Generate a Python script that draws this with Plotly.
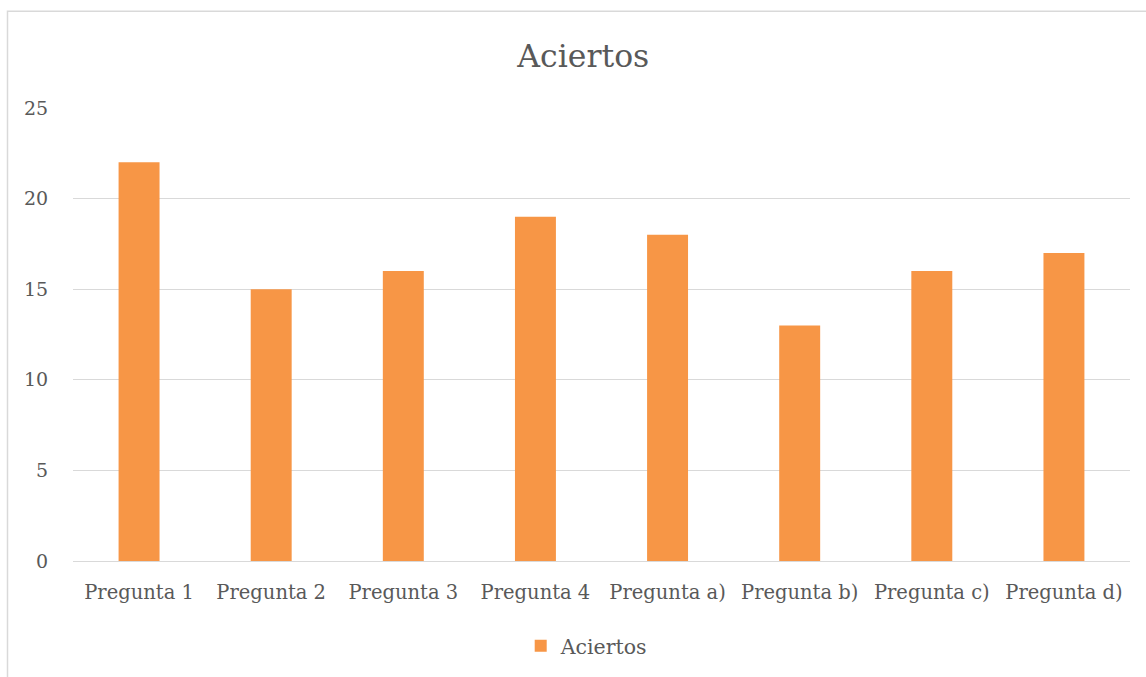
import plotly.graph_objects as go

categories = ["Pregunta 1", "Pregunta 2", "Pregunta 3", "Pregunta 4",
              "Pregunta a)", "Pregunta b)", "Pregunta c)", "Pregunta d)"]
aciertos = [22, 15, 16, 19, 18, 13, 16, 17]
y_ticks = [0, 5, 10, 15, 20, 25]

FONT = "DejaVu Serif"
TEXT = "#595959"
GRID = "#d9d9d9"
ORANGE = "#f79646"

fig = go.Figure(
    go.Bar(
        x=categories,
        y=aciertos,
        name="Aciertos",
        marker=dict(color=ORANGE, line=dict(width=0)),
        width=0.31,
    )
)

fig.update_layout(
    width=1146,
    height=677,
    margin=dict(l=73, r=16, t=108, b=115),
    paper_bgcolor="white",
    plot_bgcolor="white",
    font=dict(family=FONT, color=TEXT, size=19),
    title=dict(
        text="Aciertos",
        x=0.509,
        xanchor="center",
        y=0.918,
        yanchor="middle",
        font=dict(family=FONT, size=31.5, color=TEXT),
    ),
    showlegend=True,
    legend=dict(
        orientation="h",
        x=0.486,
        xanchor="center",
        y=-0.185,
        yanchor="middle",
        font=dict(family=FONT, size=20.5, color=TEXT),
        itemwidth=30,
    ),
    bargap=0.69,
    shapes=[
        dict(
            type="rect",
            xref="paper",
            yref="paper",
            x0=(7.5 - 73) / 1057,
            x1=1.1,
            y0=-0.4,
            y1=(562 - 11) / 454,
            line=dict(color=GRID, width=1.5),
            fillcolor="rgba(0,0,0,0)",
            layer="below",
        )
    ],
)

fig.update_xaxes(
    showgrid=False,
    showline=False,
    ticks="outside",
    ticklen=14,
    tickcolor="rgba(0,0,0,0)",
    tickfont=dict(family=FONT, size=19.5, color=TEXT),
)

fig.update_yaxes(
    range=[0, 25],
    tickvals=y_ticks,
    showgrid=True,
    gridcolor=GRID,
    gridwidth=1.3,
    zeroline=True,
    zerolinecolor=GRID,
    zerolinewidth=1.3,
    showline=False,
    ticks="outside",
    ticklen=20,
    tickcolor="rgba(0,0,0,0)",
    tickfont=dict(family=FONT, size=19, color=TEXT),
)

fig.write_html("out.html")
